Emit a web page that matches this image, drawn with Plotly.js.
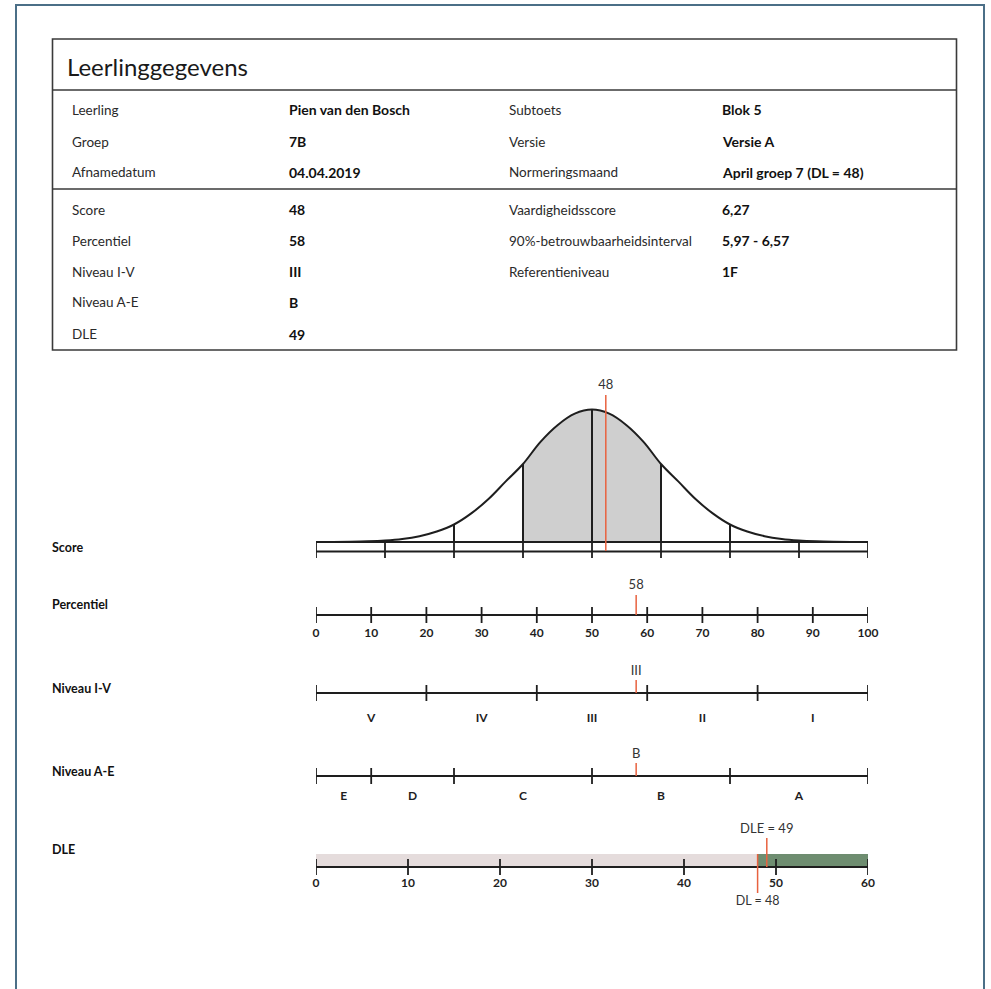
<!DOCTYPE html>
<html><head><meta charset="utf-8">
<script src="https://cdn.plot.ly/plotly-3.0.1.min.js"></script>
<style>html,body{margin:0;padding:0;background:#fff}#chart{width:991px;height:989px}</style>
</head><body><div id="chart"></div>
<script>
// ---------- DATA ----------
const tableTitle = 'Leerlinggegevens';
const infoLeftLabels  = ['Leerling','Groep','Afnamedatum','Score','Percentiel','Niveau I-V','Niveau A-E','DLE'];
const infoLeftValues  = ['Pien van den Bosch','7B','04.04.2019','48','58','III','B','49'];
const infoRightLabels = ['Subtoets','Versie','Normeringsmaand','Vaardigheidsscore','90%-betrouwbaarheidsinterval','Referentieniveau'];
const infoRightValues = ['Blok 5','Versie A','April groep 7 (DL = 48)','6,27','5,97 - 6,57','1F'];

const rowLabels = ['Score','Percentiel','Niveau I-V','Niveau A-E','DLE'];

// Score distribution (z units) and curve heights
const curveZ = [-4,-3.75,-3.5,-3.25,-3,-2.75,-2.5,-2.25,-2,-1.75,-1.5,-1.25,-1,-0.75,-0.5,-0.25,0,
                0.25,0.5,0.75,1,1.25,1.5,1.75,2,2.25,2.5,2.75,3,3.25,3.5,3.75,4];
const curveH = [0,0.1,0.3,0.7,1.5,3,5.8,10.5,17.5,28.6,43,60.6,78,99.9,116.8,128.3,132.4,
                128.3,116.8,99.9,78,60.6,43,28.6,17.5,10.5,5.8,3,1.5,0.7,0.3,0.1,0];
const scoreTicks = [-4,-3,-2,-1,0,1,2,3,4];
const dividerZ = [-2,-1,0,1,2];
const shadedFrom = -1, shadedTo = 1;
const scoreZ = 0.2, scoreLabel = '48';

// Percentile
const pctTicks = [0,10,20,30,40,50,60,70,80,90,100];
const pctValue = 58;

// Niveau I-V
const ivBounds = [0,20,40,60,80,100];
const ivLabels = ['V','IV','III','II','I'];
const ivValueLabel = 'III';

// Niveau A-E
const aeBounds = [0,10,25,50,75,100];
const aeLabels = ['E','D','C','B','A'];
const aeValueLabel = 'B';

// DLE
const dleTicks = [0,10,20,30,40,50,60];
const dlValue = 48, dleValue = 49, dleMax = 60;

// ---------- LAYOUT HELPERS ----------
const W = 991, H = 989;
const FONT = 'Lato, "Open Sans", sans-serif';
const INK = '#1e1e1e', RED = '#e8623f';
const px = x => x / W, py = y => 1 - y / H;
const AX_L = 316, AX_R = 868;

const rows = {
  score: {top: 368, bottom: 566, line: 542, xr: [-4, 4]},
  pct:   {top: 572, bottom: 648, line: 615, xr: [0, 100]},
  iv:    {top: 655, bottom: 735, line: 693, xr: [0, 100]},
  ae:    {top: 740, bottom: 815, line: 776, xr: [0, 100]},
  dle:   {top: 818, bottom: 915, line: 867, xr: [0, 60]}
};
const layout = {
  width: W, height: H, margin: {l:0,r:0,t:0,b:0},
  paper_bgcolor: '#fff', plot_bgcolor: 'rgba(0,0,0,0)',
  showlegend: false, hovermode: false,
  font: {family: FONT, color: INK},
  shapes: [], annotations: []
};
const keys = ['score','pct','iv','ae','dle'];
keys.forEach((k, i) => {
  const r = rows[k], n = i + 1;
  const xa = n === 1 ? 'xaxis' : 'xaxis' + n, ya = n === 1 ? 'yaxis' : 'yaxis' + n;
  r.xref = n === 1 ? 'x' : 'x' + n; r.yref = n === 1 ? 'y' : 'y' + n;
  layout[xa] = {domain: [px(AX_L), px(AX_R)], range: r.xr, visible: false, fixedrange: true, anchor: r.yref};
  layout[ya] = {domain: [py(r.bottom), py(r.top)], range: [-(r.bottom - r.line), r.line - r.top],
                visible: false, fixedrange: true, anchor: r.xref};
});

const traces = [];
function seg(r, xs, y0s, y1s, color, width) {
  const x = [], y = [];
  xs.forEach((v, i) => { x.push(v, v, null); y.push(Array.isArray(y0s) ? y0s[i] : y0s, Array.isArray(y1s) ? y1s[i] : y1s, null); });
  traces.push({type:'scatter', mode:'lines', x, y, xaxis:r.xref, yaxis:r.yref, cliponaxis:false,
               line:{color, width}, hoverinfo:'skip', connectgaps:false});
}
function hline(r, x0, x1, y, color, width) {
  traces.push({type:'scatter', mode:'lines', x:[x0,x1], y:[y,y], xaxis:r.xref, yaxis:r.yref, cliponaxis:false,
               line:{color, width}, hoverinfo:'skip'});
}
function txt(r, xs, ys, texts, size, bold, color) {
  traces.push({type:'scatter', mode:'text', x:xs, y:ys, text: texts.map(t => bold ? '<b>'+t+'</b>' : t),
               textposition:'middle center', xaxis:r.xref, yaxis:r.yref, cliponaxis:false,
               textfont:{family: FONT, size, color: color || INK}, hoverinfo:'skip'});
}

// ---------- SCORE ROW ----------
{
  const r = rows.score;
  const i0 = curveZ.indexOf(shadedFrom), i1 = curveZ.indexOf(shadedTo);
  traces.push({type:'scatter', mode:'lines', x: curveZ.slice(i0, i1 + 1), y: curveH.slice(i0, i1 + 1),
               fill:'tozeroy', fillcolor:'#cfcfcf', line:{width:0, shape:'spline'},
               xaxis:r.xref, yaxis:r.yref, hoverinfo:'skip'});
  traces.push({type:'scatter', mode:'lines', x: curveZ, y: curveH, line:{color:INK, width:2, shape:'spline'},
               xaxis:r.xref, yaxis:r.yref, hoverinfo:'skip', cliponaxis:false});
  seg(r, dividerZ, 0, dividerZ.map(z => curveH[curveZ.indexOf(z)]), INK, 2);
  hline(r, r.xr[0], r.xr[1], 0, INK, 1.8);
  hline(r, r.xr[0], r.xr[1], -9.5, INK, 1.8);
  seg(r, scoreTicks, 0, -16, INK, 1.8);
  seg(r, [scoreZ], -9, 147, RED, 1.5);
  txt(r, [scoreZ], [156], [scoreLabel], 13, false, '#333');
}
// ---------- PERCENTIEL ----------
{
  const r = rows.pct;
  hline(r, 0, 100, 0, INK, 2);
  seg(r, pctTicks, -8, 8, INK, 1.8);
  seg(r, [pctValue], 0, 20, RED, 1.5);
  txt(r, [pctValue], [29], [String(pctValue)], 13, false, '#333');
  txt(r, pctTicks, pctTicks.map(() => -19), pctTicks.map(String), 12, true);
}
// ---------- NIVEAU I-V ----------
{
  const r = rows.iv;
  hline(r, 0, 100, 0, INK, 2);
  seg(r, ivBounds, -8, 8, INK, 1.8);
  seg(r, [pctValue], 0, 13, RED, 1.5);
  txt(r, [pctValue], [21], [ivValueLabel], 13, false, '#333');
  const mids = ivBounds.slice(0, -1).map((b, i) => (b + ivBounds[i + 1]) / 2);
  txt(r, mids, mids.map(() => -26), ivLabels, 12, true);
}
// ---------- NIVEAU A-E ----------
{
  const r = rows.ae;
  hline(r, 0, 100, 0, INK, 2);
  seg(r, aeBounds, -8, 8, INK, 1.8);
  seg(r, [pctValue], 0, 13, RED, 1.5);
  txt(r, [pctValue], [21], [aeValueLabel], 13, false, '#333');
  const mids = aeBounds.slice(0, -1).map((b, i) => (b + aeBounds[i + 1]) / 2);
  txt(r, mids, mids.map(() => -21), aeLabels, 12, true);
}
// ---------- DLE ----------
{
  const r = rows.dle;
  traces.push({type:'scatter', mode:'lines', x:[0, dlValue, dlValue, 0, 0], y:[0, 0, 13, 13, 0], fill:'toself',
               fillcolor:'#e5dcdc', line:{width:0}, xaxis:r.xref, yaxis:r.yref, hoverinfo:'skip'});
  traces.push({type:'scatter', mode:'lines', x:[dlValue, dleMax, dleMax, dlValue, dlValue], y:[0, 0, 13, 13, 0], fill:'toself',
               fillcolor:'#6e8d70', line:{width:0}, xaxis:r.xref, yaxis:r.yref, hoverinfo:'skip'});
  hline(r, 0, dleMax, 0, INK, 2);
  seg(r, dleTicks, -8, 8, INK, 1.8);
  seg(r, [dlValue], -26, 13, RED, 1.5);
  seg(r, [dleValue], 0, 29, RED, 1.5);
  txt(r, [dleValue], [37], ['DLE = ' + dleValue], 13, false, '#333');
  txt(r, [dlValue], [-35], ['DL = ' + dlValue], 12.5, false, '#333');
  txt(r, dleTicks, dleTicks.map(() => -17), dleTicks.map(String), 12, true);
}

// ---------- FRAME + TABLE ----------
const S = layout.shapes, A = layout.annotations;
S.push({type:'rect', xref:'paper', yref:'paper', x0:px(16), x1:px(984), y0:py(1000), y1:py(5),
        line:{color:'#4b6f87', width:2}, fillcolor:'rgba(0,0,0,0)'});
S.push({type:'rect', xref:'paper', yref:'paper', x0:px(52.5), x1:px(956.5), y0:py(350), y1:py(39),
        line:{color:'#3a3a3a', width:1.6}, fillcolor:'rgba(0,0,0,0)'});
[90, 189].forEach(y => S.push({type:'line', xref:'paper', yref:'paper', x0:px(52.5), x1:px(956.5), y0:py(y), y1:py(y),
        line:{color:'#3a3a3a', width:1.4}}));

function ann(x, y, text, size, bold, color) {
  A.push({xref:'paper', yref:'paper', x:px(x), y:py(y), xanchor:'left', yanchor:'middle', showarrow:false,
          text: bold ? '<b>'+text+'</b>' : text, font:{family:FONT, size, color: color || INK}});
}
ann(65, 66, tableTitle, 24, false, '#1a1a1a');
const rowY = [110, 141.5, 172.5, 209.5, 240.5, 271.5, 302.5, 334];
infoLeftLabels.forEach((t, i) => ann(70, rowY[i], t, 13.5, false, '#2a2a2a'));
infoLeftValues.forEach((t, i) => ann(287, rowY[i], t, 14, true, '#111'));
infoRightLabels.forEach((t, i) => ann(507, rowY[i], t, 13.5, false, '#2a2a2a'));
infoRightValues.forEach((t, i) => ann(720, rowY[i], t, 14, true, '#111'));

const rowLabelY = [547, 604, 688, 771, 849];
rowLabels.forEach((t, i) => ann(50, rowLabelY[i], t, 12.5, true, '#111'));

Plotly.newPlot('chart', traces, layout, {staticPlot: true, displayModeBar: false});
</script>
</body></html>
